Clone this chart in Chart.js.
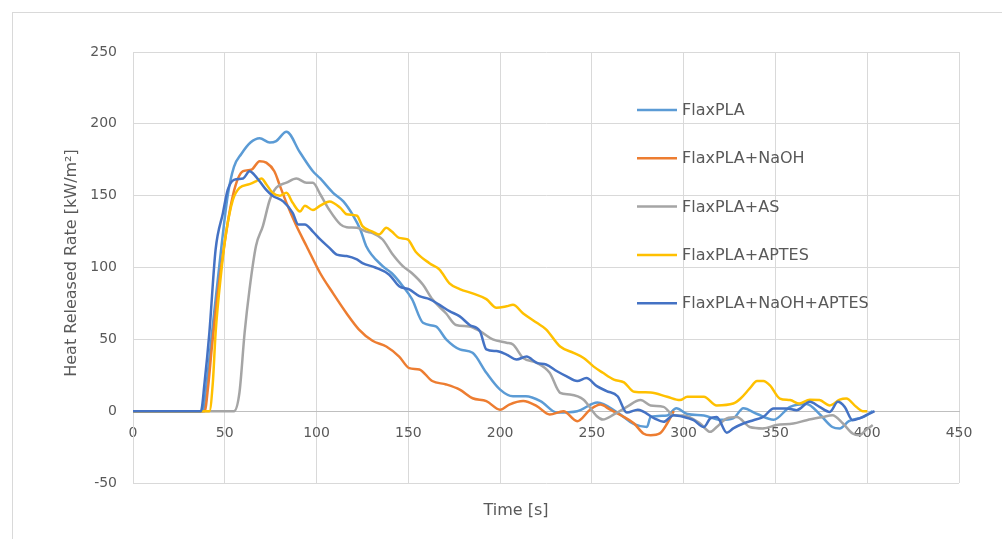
<!DOCTYPE html>
<html>
<head>
<meta charset="utf-8">
<title>Heat Released Rate</title>
<script src="https://cdn.jsdelivr.net/npm/chart.js@4/dist/chart.umd.min.js"></script>
<style>
  html, body { margin: 0; padding: 0; background: #ffffff; }
  canvas { display: block; }
</style>
</head>
<body>
<canvas id="hrr" width="1002" height="539"></canvas>
<script>
// Heat released rate curves, time [s] and value [kW/m²]
const flaxT = [0, 38, 40, 43, 47, 51.6, 55, 59, 64, 69, 74.5, 78, 83.6, 91, 98, 102, 109, 114.6, 120, 124, 127, 136, 141, 147, 152, 158, 165, 170.6, 178, 185, 192.5, 200, 207, 214, 222, 231, 242, 253, 264, 273, 280, 282, 291, 296, 302, 311, 320, 327, 332.5, 340, 349, 358, 367, 374, 381, 385, 390, 398, 403];
const flaxV = [0, 0, 18, 54, 101, 150, 170, 179, 187, 190, 187, 188, 194.5, 180, 167, 162, 152, 146, 136, 126, 115, 101, 96, 87, 78, 61.5, 59, 50, 43, 40.6, 26.7, 15, 10.4, 10.4, 7, -1, 0, 6, -1, -9, -11, -4, -3, 2, -2, -3, -6, -5, 2, -2, -6, 3, 5, -2, -11, -12, -7, -4, 0];

const naohT = [0, 39, 41, 43, 48, 54.4, 60, 64.4, 69, 72.6, 77, 80, 83.6, 89, 94.5, 102, 109, 116.4, 123, 130.5, 138, 145, 150.5, 156, 163, 170.6, 178, 185, 192.5, 200, 205, 212.6, 220, 227, 234.5, 242, 249, 254.6, 260, 266, 273, 278, 282, 287, 291, 294.6];
const naohV = [0, 0, 18, 45, 100, 150, 167, 168, 174, 173, 167, 157, 145, 129, 115, 96, 82, 68, 57, 49, 45, 38, 30, 29, 21, 18.6, 15, 9, 7, 1, 4.6, 7, 3.5, -2.3, 0, -7, 1, 4.6, 1, -3, -8.6, -15.5, -16.7, -15.5, -8.6, 0];

const asT = [0, 55, 58, 60.8, 63.5, 67, 70.8, 74.5, 78, 83.6, 89, 94.5, 98, 102, 107, 113, 116.4, 122, 127, 130.5, 136, 141, 147, 152, 158, 163, 170.6, 176, 183, 189, 196, 203.5, 207, 212.6, 220, 227, 232.7, 238, 245.5, 252.7, 256, 262, 269, 276.5, 282, 289, 294.6, 300, 309, 314.5, 318, 323.5, 329, 336, 343.4, 350.6, 359.7, 367, 376, 381, 386.8, 392, 395.8, 399.4, 403];
const asV = [0, 0, 13, 54.5, 85, 115, 129, 147, 155.5, 159, 162, 159, 159, 151, 140, 130, 128, 127.6, 125, 124, 119.5, 110, 101, 96, 88, 78, 68, 60, 59, 55.7, 50, 47.6, 46.4, 37, 33.6, 26.7, 12.8, 11.6, 8, -3.5, -5.8, -2.3, 3, 7.7, 4, 3, -2.8, -3, -8.6, -14.4, -11, -5, -4, -11, -12, -9.7, -8.6, -6.3, -4, -2.8, -8.6, -15.5, -16.7, -13, -9.7];

const aptesT = [0, 41.6, 43.5, 45, 48, 50.7, 54.4, 58, 63.5, 67, 70, 72.6, 76, 80, 83.6, 87, 91, 93.6, 98, 102, 107, 113, 116.4, 122, 125, 130.5, 134, 138, 141, 145, 149.6, 154, 161.5, 167, 172.4, 178, 185, 192.5, 198, 203.5, 207, 212.6, 220, 225, 232.7, 240, 245.5, 251, 256, 262, 267.5, 273, 282, 291, 298, 302, 311, 318, 327, 331, 336, 340, 343.4, 347, 352.4, 358, 363, 368.7, 374, 379.6, 385, 388.6, 394, 397.6, 400];
const aptesV = [0, 0, 20, 54.5, 96, 124, 147, 155.5, 158, 160, 162, 158, 152, 150, 152, 145, 139, 143, 140, 143, 146, 141.5, 137, 136, 128.8, 125, 123, 127.6, 125, 120.6, 119.5, 111, 103, 98.6, 89, 85, 82, 78, 72, 73, 74, 68, 61.5, 57, 45, 40.6, 37, 31, 26.7, 22, 20, 13.5, 13, 10, 7.7, 10, 10, 4, 5.3, 8.8, 15.8, 21, 21, 18, 8.8, 7.7, 5.3, 8, 7.7, 4, 8, 8.8, 3, 0, 0];

const naohAptesT = [0, 37, 39, 41.6, 45, 49, 51.6, 55, 60, 63.5, 65, 69, 72.6, 76, 81.8, 87, 90, 93.6, 98, 102, 107, 111, 116.4, 122, 125, 132, 139.6, 145, 150.5, 156, 161.5, 167, 172.4, 178, 183.4, 189, 192.5, 198, 203.5, 209, 214.4, 220, 225, 231, 236, 242, 247, 252.7, 258, 264, 269, 275, 284, 289, 294.6, 300, 305.4, 311, 314.5, 318, 323.5, 327, 332.5, 338, 343.4, 349, 356, 361.5, 368.7, 374, 379.6, 384, 387.7, 392, 395.8, 399.4, 404];
const naohAptesV = [0, 0, 20, 54.5, 112.5, 138, 154, 161, 162, 167, 166, 160, 154, 150, 146, 138, 130, 130, 125, 119.5, 113.7, 109, 108, 105.6, 103, 100, 95, 87, 84.7, 80, 78, 74, 69.6, 66, 60, 55.7, 43, 41.8, 39.4, 36, 38, 33.6, 32.5, 27.8, 24.4, 21, 23, 17.4, 14, 10.4, -1, 1, -5, -7.4, -2.8, -4, -6.3, -11, -5, -4, -15, -12, -8.6, -6.3, -4, 1.9, 1.9, 0.7, 6.5, 3, -0.5, 6.5, 3, -6.3, -5, -2.8, 0];

const seriesNames = ['FlaxPLA', 'FlaxPLA+NaOH', 'FlaxPLA+AS', 'FlaxPLA+APTES', 'FlaxPLA+NaOH+APTES'];
const seriesColors = ['#5B9BD5', '#ED7D31', '#A5A5A5', '#FFC000', '#4472C4'];
const seriesTimes = [flaxT, naohT, asT, aptesT, naohAptesT];
const seriesValues = [flaxV, naohV, asV, aptesV, naohAptesV];

const xTicks = [0, 50, 100, 150, 200, 250, 300, 350, 400, 450];
const yTicks = [-50, 0, 50, 100, 150, 200, 250];
const xTitle = 'Time [s]';
const yTitle = 'Heat Released Rate [kW/m²]';

const textColor = '#595959';
const gridColor = '#D9D9D9';

const datasets = seriesNames.map((name, i) => ({
  label: name,
  data: seriesTimes[i].map((t, k) => ({ x: t, y: seriesValues[i][k] })),
  borderColor: seriesColors[i],
  backgroundColor: seriesColors[i],
  borderWidth: 2.5,
  pointRadius: 0,
  cubicInterpolationMode: 'monotone',
  fill: false,
  order: seriesNames.length - i
}));

// outer frame of the chart object
const frame = {
  id: 'frame',
  beforeDraw(chart) {
    const ctx = chart.ctx;
    ctx.save();
    ctx.fillStyle = '#ffffff';
    ctx.fillRect(0, 0, chart.width, chart.height);
    ctx.strokeStyle = '#D9D9D9';
    ctx.lineWidth = 1;
    ctx.strokeRect(12.5, 12.5, chart.width + 10, chart.height + 10);
    ctx.restore();
  }
};

// axis titles
const axisTitles = {
  id: 'axisTitles',
  afterDraw(chart) {
    const ctx = chart.ctx;
    ctx.save();
    ctx.fillStyle = textColor;
    ctx.font = '16px "DejaVu Sans"';
    ctx.textAlign = 'center';
    ctx.textBaseline = 'middle';
    ctx.fillText(xTitle, 516, 511);
    ctx.translate(72, 263);
    ctx.rotate(-Math.PI / 2);
    ctx.fillText(yTitle, 0, 0);
    ctx.restore();
  }
};

// legend drawn inside the plot area
const innerLegend = {
  id: 'innerLegend',
  afterDatasetsDraw(chart) {
    const ctx = chart.ctx;
    ctx.save();
    ctx.font = '16px "DejaVu Sans"';
    ctx.textAlign = 'left';
    ctx.textBaseline = 'middle';
    seriesNames.forEach((name, i) => {
      const y = 110 + i * 48.3;
      ctx.strokeStyle = seriesColors[i];
      ctx.lineWidth = 2.5;
      ctx.beginPath();
      ctx.moveTo(637, y);
      ctx.lineTo(677, y);
      ctx.stroke();
      ctx.fillStyle = textColor;
      ctx.fillText(name, 682, y + 1);
    });
    ctx.restore();
  }
};

new Chart(document.getElementById('hrr'), {
  type: 'line',
  data: { datasets },
  plugins: [frame, axisTitles, innerLegend],
  options: {
    responsive: false,
    animation: false,
    layout: { padding: { top: 52, right: 43, bottom: 56, left: 0 } },
    plugins: { legend: { display: false }, tooltip: { enabled: false } },
    scales: {
      x: {
        type: 'linear',
        min: 0,
        max: 450,
        position: { y: 0 },
        afterBuildTicks: s => { s.ticks = xTicks.map(v => ({ value: v })); },
        ticks: { color: textColor, font: { family: 'DejaVu Sans', size: 14 }, padding: 14, maxRotation: 0 },
        grid: { color: gridColor, lineWidth: 1, drawTicks: false },
        border: { display: true, color: '#BFBFBF', width: 1 }
      },
      y: {
        type: 'linear',
        min: -50,
        max: 250,
        afterBuildTicks: s => { s.ticks = yTicks.map(v => ({ value: v })); },
        afterFit: s => { s.width = 133; },
        ticks: { color: textColor, font: { family: 'DejaVu Sans', size: 14 }, padding: 16 },
        grid: { color: gridColor, lineWidth: 1, drawTicks: false },
        border: { display: true, color: gridColor, width: 1 }
      }
    }
  }
});
</script>
</body>
</html>
